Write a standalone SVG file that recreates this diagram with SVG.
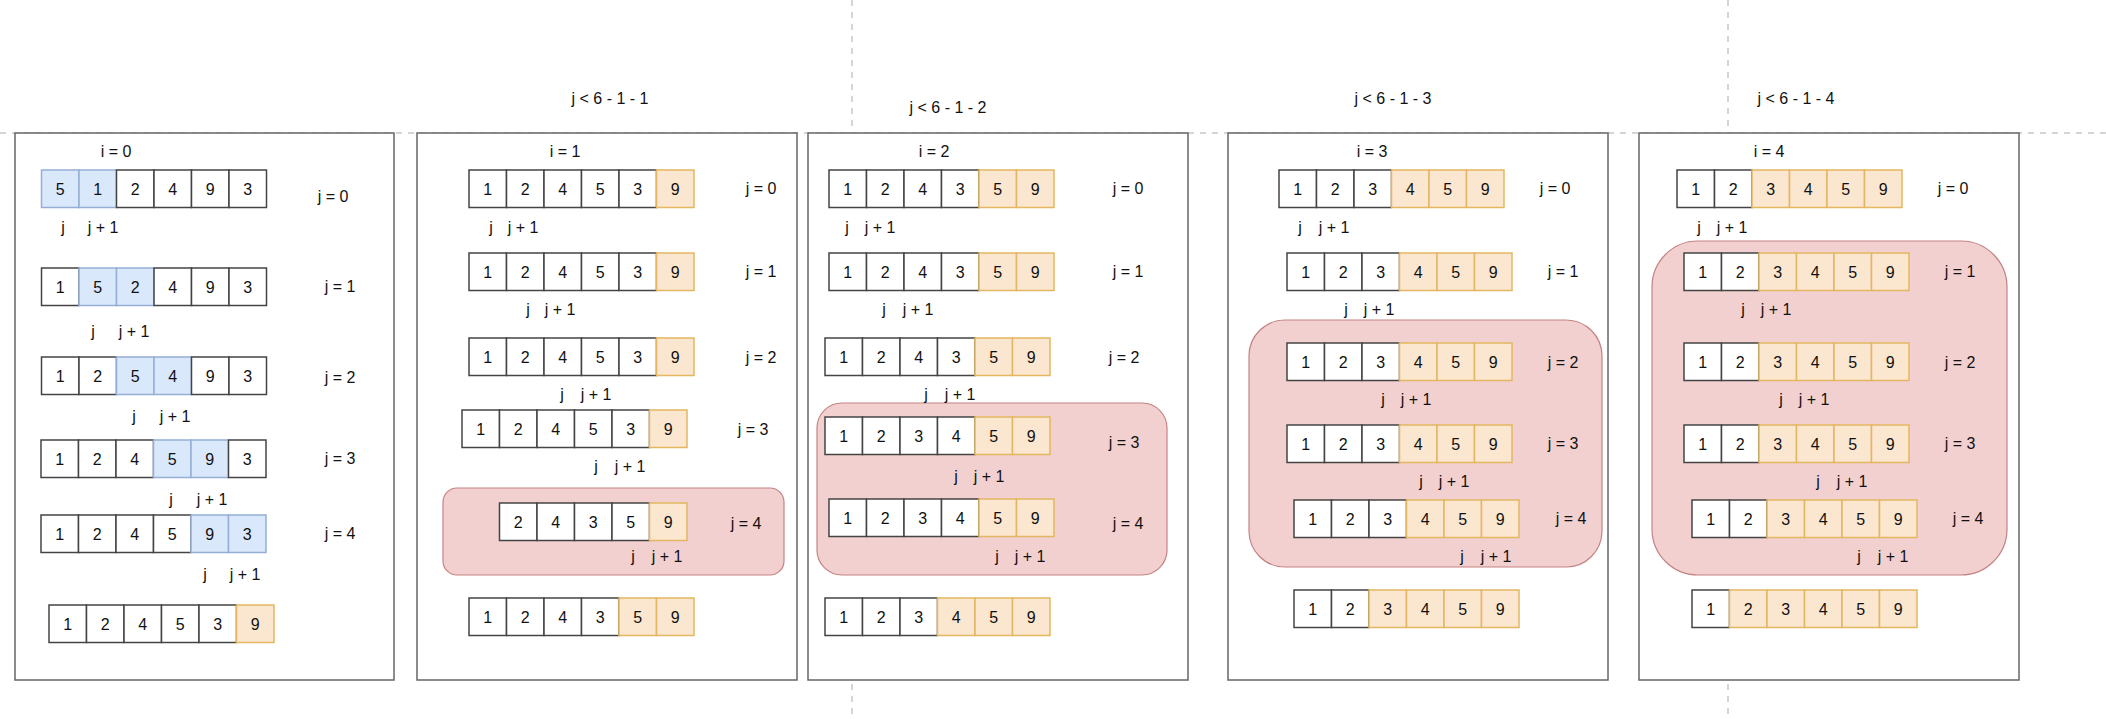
<svg xmlns="http://www.w3.org/2000/svg" width="2106" height="719" viewBox="0 0 2106 719">
<style>
text{font-family:"Liberation Sans",Arial,sans-serif;font-size:16px;fill:#111;text-anchor:middle;dominant-baseline:central}
.p{fill:#fff;stroke:#666;stroke-width:1.5}
.c{fill:#fff;stroke:#444;stroke-width:1.5}
.b{fill:#dae8fc;stroke:#95aed6;stroke-width:1.5}
.o{fill:#fbe6cf;stroke:#e3b661;stroke-width:1.5}
.h{fill:#f2d0cf;stroke:#c48382;stroke-width:1.2}
.d{stroke:#c8c8c8;stroke-width:1.5;stroke-dasharray:6 6;fill:none}
</style>
<g id="guides">
<line class="d" x1="0" y1="133" x2="2106" y2="133"/>
<line class="d" x1="852" y1="0" x2="852" y2="719"/>
<line class="d" x1="1728" y1="0" x2="1728" y2="719"/>
</g>
<g id="panels">
<rect class="p" x="15" y="133" width="379" height="547"/>
<rect class="p" x="417" y="133" width="380" height="547"/>
<rect class="p" x="808" y="133" width="380" height="547"/>
<rect class="p" x="1228" y="133" width="380" height="547"/>
<rect class="p" x="1639" y="133" width="380" height="547"/>
</g>
<g id="highlights">
<rect class="h" x="443" y="488" width="341" height="87" rx="14"/>
<rect class="h" x="817" y="403" width="350" height="172" rx="25"/>
<rect class="h" x="1249" y="320" width="353" height="247" rx="36"/>
<rect class="h" x="1652" y="241" width="355" height="334" rx="46"/>
</g>
<g id="connectors"/>
<g id="labels">
<text x="610" y="98">j &lt;  6 - 1 - 1</text>
<text x="948" y="107">j &lt; 6 - 1 - 2</text>
<text x="1393" y="98">j &lt; 6 - 1 - 3</text>
<text x="1796" y="98">j &lt; 6 - 1 - 4</text>
<text x="116" y="151">i = 0</text>
<text x="565" y="151">i = 1</text>
<text x="934" y="151">i = 2</text>
<text x="1372" y="151">i = 3</text>
<text x="1769" y="151">i = 4</text>
<text x="333" y="196">j = 0</text><text x="340" y="286">j = 1</text><text x="340" y="377">j = 2</text><text x="340" y="458">j = 3</text><text x="340" y="533">j = 4</text>
<text x="63" y="227">j</text><text x="103" y="227">j + 1</text>
<text x="93" y="331">j</text><text x="134" y="331">j + 1</text>
<text x="134" y="416">j</text><text x="175" y="416">j + 1</text>
<text x="171" y="499">j</text><text x="212" y="499">j + 1</text>
<text x="205" y="574">j</text><text x="245" y="574">j + 1</text>
<text x="761" y="188">j = 0</text><text x="761" y="271">j = 1</text><text x="761" y="357">j = 2</text><text x="753" y="429">j = 3</text><text x="746" y="523">j = 4</text>
<text x="491" y="227">j</text><text x="523" y="227">j + 1</text>
<text x="528" y="309">j</text><text x="560" y="309">j + 1</text>
<text x="562" y="394">j</text><text x="596" y="394">j + 1</text>
<text x="596" y="466">j</text><text x="630" y="466">j + 1</text>
<text x="633" y="556">j</text><text x="667" y="556">j + 1</text>
<text x="1128" y="188">j = 0</text><text x="1128" y="271">j = 1</text><text x="1124" y="357">j = 2</text><text x="1124" y="442">j = 3</text><text x="1128" y="523">j = 4</text>
<text x="847" y="227">j</text><text x="880" y="227">j + 1</text>
<text x="884" y="309">j</text><text x="918" y="309">j + 1</text>
<text x="926" y="394">j</text><text x="960" y="394">j + 1</text>
<text x="956" y="476">j</text><text x="989" y="476">j + 1</text>
<text x="997" y="556">j</text><text x="1030" y="556">j + 1</text>
<text x="1555" y="188">j = 0</text><text x="1563" y="271">j = 1</text><text x="1563" y="362">j = 2</text><text x="1563" y="443">j = 3</text><text x="1571" y="518">j = 4</text>
<text x="1300" y="227">j</text><text x="1334" y="227">j + 1</text>
<text x="1346" y="309">j</text><text x="1379" y="309">j + 1</text>
<text x="1383" y="399">j</text><text x="1416" y="399">j + 1</text>
<text x="1421" y="481">j</text><text x="1454" y="481">j + 1</text>
<text x="1462" y="556">j</text><text x="1496" y="556">j + 1</text>
<text x="1953" y="188">j = 0</text><text x="1960" y="271">j = 1</text><text x="1960" y="362">j = 2</text><text x="1960" y="443">j = 3</text><text x="1968" y="518">j = 4</text>
<text x="1699" y="227">j</text><text x="1732" y="227">j + 1</text>
<text x="1743" y="309">j</text><text x="1776" y="309">j + 1</text>
<text x="1781" y="399">j</text><text x="1814" y="399">j + 1</text>
<text x="1818" y="481">j</text><text x="1852" y="481">j + 1</text>
<text x="1859" y="556">j</text><text x="1893" y="556">j + 1</text>
</g>
<g id="p1r0" transform="translate(41.5,170)"><rect class="b" x="0" width="37.5" height="37.5"/><rect class="b" x="37.5" width="37.5" height="37.5"/><rect class="c" x="75" width="37.5" height="37.5"/><rect class="c" x="112.5" width="37.5" height="37.5"/><rect class="c" x="150" width="37.5" height="37.5"/><rect class="c" x="187.5" width="37.5" height="37.5"/><text x="18.75" y="19">5</text><text x="56.25" y="19">1</text><text x="93.75" y="19">2</text><text x="131.25" y="19">4</text><text x="168.75" y="19">9</text><text x="206.25" y="19">3</text></g>
<g id="p1r1" transform="translate(41.5,268)"><rect class="c" x="0" width="37.5" height="37.5"/><rect class="b" x="37.5" width="37.5" height="37.5"/><rect class="b" x="75" width="37.5" height="37.5"/><rect class="c" x="112.5" width="37.5" height="37.5"/><rect class="c" x="150" width="37.5" height="37.5"/><rect class="c" x="187.5" width="37.5" height="37.5"/><text x="18.75" y="19">1</text><text x="56.25" y="19">5</text><text x="93.75" y="19">2</text><text x="131.25" y="19">4</text><text x="168.75" y="19">9</text><text x="206.25" y="19">3</text></g>
<g id="p1r2" transform="translate(41.5,357)"><rect class="c" x="0" width="37.5" height="37.5"/><rect class="c" x="37.5" width="37.5" height="37.5"/><rect class="b" x="75" width="37.5" height="37.5"/><rect class="b" x="112.5" width="37.5" height="37.5"/><rect class="c" x="150" width="37.5" height="37.5"/><rect class="c" x="187.5" width="37.5" height="37.5"/><text x="18.75" y="19">1</text><text x="56.25" y="19">2</text><text x="93.75" y="19">5</text><text x="131.25" y="19">4</text><text x="168.75" y="19">9</text><text x="206.25" y="19">3</text></g>
<g id="p1r3" transform="translate(41,440)"><rect class="c" x="0" width="37.5" height="37.5"/><rect class="c" x="37.5" width="37.5" height="37.5"/><rect class="c" x="75" width="37.5" height="37.5"/><rect class="b" x="112.5" width="37.5" height="37.5"/><rect class="b" x="150" width="37.5" height="37.5"/><rect class="c" x="187.5" width="37.5" height="37.5"/><text x="18.75" y="19">1</text><text x="56.25" y="19">2</text><text x="93.75" y="19">4</text><text x="131.25" y="19">5</text><text x="168.75" y="19">9</text><text x="206.25" y="19">3</text></g>
<g id="p1r4" transform="translate(41,515)"><rect class="c" x="0" width="37.5" height="37.5"/><rect class="c" x="37.5" width="37.5" height="37.5"/><rect class="c" x="75" width="37.5" height="37.5"/><rect class="c" x="112.5" width="37.5" height="37.5"/><rect class="b" x="150" width="37.5" height="37.5"/><rect class="b" x="187.5" width="37.5" height="37.5"/><text x="18.75" y="19">1</text><text x="56.25" y="19">2</text><text x="93.75" y="19">4</text><text x="131.25" y="19">5</text><text x="168.75" y="19">9</text><text x="206.25" y="19">3</text></g>
<g id="p1r5" transform="translate(49,605)"><rect class="c" x="0" width="37.5" height="37.5"/><rect class="c" x="37.5" width="37.5" height="37.5"/><rect class="c" x="75" width="37.5" height="37.5"/><rect class="c" x="112.5" width="37.5" height="37.5"/><rect class="c" x="150" width="37.5" height="37.5"/><rect class="o" x="187.5" width="37.5" height="37.5"/><text x="18.75" y="19">1</text><text x="56.25" y="19">2</text><text x="93.75" y="19">4</text><text x="131.25" y="19">5</text><text x="168.75" y="19">3</text><text x="206.25" y="19">9</text></g>
<g id="p2r0" transform="translate(469,170)"><rect class="c" x="0" width="37.5" height="37.5"/><rect class="c" x="37.5" width="37.5" height="37.5"/><rect class="c" x="75" width="37.5" height="37.5"/><rect class="c" x="112.5" width="37.5" height="37.5"/><rect class="c" x="150" width="37.5" height="37.5"/><rect class="o" x="187.5" width="37.5" height="37.5"/><text x="18.75" y="19">1</text><text x="56.25" y="19">2</text><text x="93.75" y="19">4</text><text x="131.25" y="19">5</text><text x="168.75" y="19">3</text><text x="206.25" y="19">9</text></g>
<g id="p2r1" transform="translate(469,253)"><rect class="c" x="0" width="37.5" height="37.5"/><rect class="c" x="37.5" width="37.5" height="37.5"/><rect class="c" x="75" width="37.5" height="37.5"/><rect class="c" x="112.5" width="37.5" height="37.5"/><rect class="c" x="150" width="37.5" height="37.5"/><rect class="o" x="187.5" width="37.5" height="37.5"/><text x="18.75" y="19">1</text><text x="56.25" y="19">2</text><text x="93.75" y="19">4</text><text x="131.25" y="19">5</text><text x="168.75" y="19">3</text><text x="206.25" y="19">9</text></g>
<g id="p2r2" transform="translate(469,338)"><rect class="c" x="0" width="37.5" height="37.5"/><rect class="c" x="37.5" width="37.5" height="37.5"/><rect class="c" x="75" width="37.5" height="37.5"/><rect class="c" x="112.5" width="37.5" height="37.5"/><rect class="c" x="150" width="37.5" height="37.5"/><rect class="o" x="187.5" width="37.5" height="37.5"/><text x="18.75" y="19">1</text><text x="56.25" y="19">2</text><text x="93.75" y="19">4</text><text x="131.25" y="19">5</text><text x="168.75" y="19">3</text><text x="206.25" y="19">9</text></g>
<g id="p2r3" transform="translate(462,410)"><rect class="c" x="0" width="37.5" height="37.5"/><rect class="c" x="37.5" width="37.5" height="37.5"/><rect class="c" x="75" width="37.5" height="37.5"/><rect class="c" x="112.5" width="37.5" height="37.5"/><rect class="c" x="150" width="37.5" height="37.5"/><rect class="o" x="187.5" width="37.5" height="37.5"/><text x="18.75" y="19">1</text><text x="56.25" y="19">2</text><text x="93.75" y="19">4</text><text x="131.25" y="19">5</text><text x="168.75" y="19">3</text><text x="206.25" y="19">9</text></g>
<g id="p2r4" transform="translate(499.5,503)"><rect class="c" x="0" width="37.5" height="37.5"/><rect class="c" x="37.5" width="37.5" height="37.5"/><rect class="c" x="75" width="37.5" height="37.5"/><rect class="c" x="112.5" width="37.5" height="37.5"/><rect class="o" x="150" width="37.5" height="37.5"/><text x="18.75" y="19">2</text><text x="56.25" y="19">4</text><text x="93.75" y="19">3</text><text x="131.25" y="19">5</text><text x="168.75" y="19">9</text></g>
<g id="p2r5" transform="translate(469,598)"><rect class="c" x="0" width="37.5" height="37.5"/><rect class="c" x="37.5" width="37.5" height="37.5"/><rect class="c" x="75" width="37.5" height="37.5"/><rect class="c" x="112.5" width="37.5" height="37.5"/><rect class="o" x="150" width="37.5" height="37.5"/><rect class="o" x="187.5" width="37.5" height="37.5"/><text x="18.75" y="19">1</text><text x="56.25" y="19">2</text><text x="93.75" y="19">4</text><text x="131.25" y="19">3</text><text x="168.75" y="19">5</text><text x="206.25" y="19">9</text></g>
<g id="p3r0" transform="translate(829,170)"><rect class="c" x="0" width="37.5" height="37.5"/><rect class="c" x="37.5" width="37.5" height="37.5"/><rect class="c" x="75" width="37.5" height="37.5"/><rect class="c" x="112.5" width="37.5" height="37.5"/><rect class="o" x="150" width="37.5" height="37.5"/><rect class="o" x="187.5" width="37.5" height="37.5"/><text x="18.75" y="19">1</text><text x="56.25" y="19">2</text><text x="93.75" y="19">4</text><text x="131.25" y="19">3</text><text x="168.75" y="19">5</text><text x="206.25" y="19">9</text></g>
<g id="p3r1" transform="translate(829,253)"><rect class="c" x="0" width="37.5" height="37.5"/><rect class="c" x="37.5" width="37.5" height="37.5"/><rect class="c" x="75" width="37.5" height="37.5"/><rect class="c" x="112.5" width="37.5" height="37.5"/><rect class="o" x="150" width="37.5" height="37.5"/><rect class="o" x="187.5" width="37.5" height="37.5"/><text x="18.75" y="19">1</text><text x="56.25" y="19">2</text><text x="93.75" y="19">4</text><text x="131.25" y="19">3</text><text x="168.75" y="19">5</text><text x="206.25" y="19">9</text></g>
<g id="p3r2" transform="translate(825,338)"><rect class="c" x="0" width="37.5" height="37.5"/><rect class="c" x="37.5" width="37.5" height="37.5"/><rect class="c" x="75" width="37.5" height="37.5"/><rect class="c" x="112.5" width="37.5" height="37.5"/><rect class="o" x="150" width="37.5" height="37.5"/><rect class="o" x="187.5" width="37.5" height="37.5"/><text x="18.75" y="19">1</text><text x="56.25" y="19">2</text><text x="93.75" y="19">4</text><text x="131.25" y="19">3</text><text x="168.75" y="19">5</text><text x="206.25" y="19">9</text></g>
<g id="p3r3" transform="translate(825,417)"><rect class="c" x="0" width="37.5" height="37.5"/><rect class="c" x="37.5" width="37.5" height="37.5"/><rect class="c" x="75" width="37.5" height="37.5"/><rect class="c" x="112.5" width="37.5" height="37.5"/><rect class="o" x="150" width="37.5" height="37.5"/><rect class="o" x="187.5" width="37.5" height="37.5"/><text x="18.75" y="19">1</text><text x="56.25" y="19">2</text><text x="93.75" y="19">3</text><text x="131.25" y="19">4</text><text x="168.75" y="19">5</text><text x="206.25" y="19">9</text></g>
<g id="p3r4" transform="translate(829,499)"><rect class="c" x="0" width="37.5" height="37.5"/><rect class="c" x="37.5" width="37.5" height="37.5"/><rect class="c" x="75" width="37.5" height="37.5"/><rect class="c" x="112.5" width="37.5" height="37.5"/><rect class="o" x="150" width="37.5" height="37.5"/><rect class="o" x="187.5" width="37.5" height="37.5"/><text x="18.75" y="19">1</text><text x="56.25" y="19">2</text><text x="93.75" y="19">3</text><text x="131.25" y="19">4</text><text x="168.75" y="19">5</text><text x="206.25" y="19">9</text></g>
<g id="p3r5" transform="translate(825,598)"><rect class="c" x="0" width="37.5" height="37.5"/><rect class="c" x="37.5" width="37.5" height="37.5"/><rect class="c" x="75" width="37.5" height="37.5"/><rect class="o" x="112.5" width="37.5" height="37.5"/><rect class="o" x="150" width="37.5" height="37.5"/><rect class="o" x="187.5" width="37.5" height="37.5"/><text x="18.75" y="19">1</text><text x="56.25" y="19">2</text><text x="93.75" y="19">3</text><text x="131.25" y="19">4</text><text x="168.75" y="19">5</text><text x="206.25" y="19">9</text></g>
<g id="p4r0" transform="translate(1279,170)"><rect class="c" x="0" width="37.5" height="37.5"/><rect class="c" x="37.5" width="37.5" height="37.5"/><rect class="c" x="75" width="37.5" height="37.5"/><rect class="o" x="112.5" width="37.5" height="37.5"/><rect class="o" x="150" width="37.5" height="37.5"/><rect class="o" x="187.5" width="37.5" height="37.5"/><text x="18.75" y="19">1</text><text x="56.25" y="19">2</text><text x="93.75" y="19">3</text><text x="131.25" y="19">4</text><text x="168.75" y="19">5</text><text x="206.25" y="19">9</text></g>
<g id="p4r1" transform="translate(1287,253)"><rect class="c" x="0" width="37.5" height="37.5"/><rect class="c" x="37.5" width="37.5" height="37.5"/><rect class="c" x="75" width="37.5" height="37.5"/><rect class="o" x="112.5" width="37.5" height="37.5"/><rect class="o" x="150" width="37.5" height="37.5"/><rect class="o" x="187.5" width="37.5" height="37.5"/><text x="18.75" y="19">1</text><text x="56.25" y="19">2</text><text x="93.75" y="19">3</text><text x="131.25" y="19">4</text><text x="168.75" y="19">5</text><text x="206.25" y="19">9</text></g>
<g id="p4r2" transform="translate(1287,343)"><rect class="c" x="0" width="37.5" height="37.5"/><rect class="c" x="37.5" width="37.5" height="37.5"/><rect class="c" x="75" width="37.5" height="37.5"/><rect class="o" x="112.5" width="37.5" height="37.5"/><rect class="o" x="150" width="37.5" height="37.5"/><rect class="o" x="187.5" width="37.5" height="37.5"/><text x="18.75" y="19">1</text><text x="56.25" y="19">2</text><text x="93.75" y="19">3</text><text x="131.25" y="19">4</text><text x="168.75" y="19">5</text><text x="206.25" y="19">9</text></g>
<g id="p4r3" transform="translate(1287,425)"><rect class="c" x="0" width="37.5" height="37.5"/><rect class="c" x="37.5" width="37.5" height="37.5"/><rect class="c" x="75" width="37.5" height="37.5"/><rect class="o" x="112.5" width="37.5" height="37.5"/><rect class="o" x="150" width="37.5" height="37.5"/><rect class="o" x="187.5" width="37.5" height="37.5"/><text x="18.75" y="19">1</text><text x="56.25" y="19">2</text><text x="93.75" y="19">3</text><text x="131.25" y="19">4</text><text x="168.75" y="19">5</text><text x="206.25" y="19">9</text></g>
<g id="p4r4" transform="translate(1294,500)"><rect class="c" x="0" width="37.5" height="37.5"/><rect class="c" x="37.5" width="37.5" height="37.5"/><rect class="c" x="75" width="37.5" height="37.5"/><rect class="o" x="112.5" width="37.5" height="37.5"/><rect class="o" x="150" width="37.5" height="37.5"/><rect class="o" x="187.5" width="37.5" height="37.5"/><text x="18.75" y="19">1</text><text x="56.25" y="19">2</text><text x="93.75" y="19">3</text><text x="131.25" y="19">4</text><text x="168.75" y="19">5</text><text x="206.25" y="19">9</text></g>
<g id="p4r5" transform="translate(1294,590)"><rect class="c" x="0" width="37.5" height="37.5"/><rect class="c" x="37.5" width="37.5" height="37.5"/><rect class="o" x="75" width="37.5" height="37.5"/><rect class="o" x="112.5" width="37.5" height="37.5"/><rect class="o" x="150" width="37.5" height="37.5"/><rect class="o" x="187.5" width="37.5" height="37.5"/><text x="18.75" y="19">1</text><text x="56.25" y="19">2</text><text x="93.75" y="19">3</text><text x="131.25" y="19">4</text><text x="168.75" y="19">5</text><text x="206.25" y="19">9</text></g>
<g id="p5r0" transform="translate(1677,170)"><rect class="c" x="0" width="37.5" height="37.5"/><rect class="c" x="37.5" width="37.5" height="37.5"/><rect class="o" x="75" width="37.5" height="37.5"/><rect class="o" x="112.5" width="37.5" height="37.5"/><rect class="o" x="150" width="37.5" height="37.5"/><rect class="o" x="187.5" width="37.5" height="37.5"/><text x="18.75" y="19">1</text><text x="56.25" y="19">2</text><text x="93.75" y="19">3</text><text x="131.25" y="19">4</text><text x="168.75" y="19">5</text><text x="206.25" y="19">9</text></g>
<g id="p5r1" transform="translate(1684,253)"><rect class="c" x="0" width="37.5" height="37.5"/><rect class="c" x="37.5" width="37.5" height="37.5"/><rect class="o" x="75" width="37.5" height="37.5"/><rect class="o" x="112.5" width="37.5" height="37.5"/><rect class="o" x="150" width="37.5" height="37.5"/><rect class="o" x="187.5" width="37.5" height="37.5"/><text x="18.75" y="19">1</text><text x="56.25" y="19">2</text><text x="93.75" y="19">3</text><text x="131.25" y="19">4</text><text x="168.75" y="19">5</text><text x="206.25" y="19">9</text></g>
<g id="p5r2" transform="translate(1684,343)"><rect class="c" x="0" width="37.5" height="37.5"/><rect class="c" x="37.5" width="37.5" height="37.5"/><rect class="o" x="75" width="37.5" height="37.5"/><rect class="o" x="112.5" width="37.5" height="37.5"/><rect class="o" x="150" width="37.5" height="37.5"/><rect class="o" x="187.5" width="37.5" height="37.5"/><text x="18.75" y="19">1</text><text x="56.25" y="19">2</text><text x="93.75" y="19">3</text><text x="131.25" y="19">4</text><text x="168.75" y="19">5</text><text x="206.25" y="19">9</text></g>
<g id="p5r3" transform="translate(1684,425)"><rect class="c" x="0" width="37.5" height="37.5"/><rect class="c" x="37.5" width="37.5" height="37.5"/><rect class="o" x="75" width="37.5" height="37.5"/><rect class="o" x="112.5" width="37.5" height="37.5"/><rect class="o" x="150" width="37.5" height="37.5"/><rect class="o" x="187.5" width="37.5" height="37.5"/><text x="18.75" y="19">1</text><text x="56.25" y="19">2</text><text x="93.75" y="19">3</text><text x="131.25" y="19">4</text><text x="168.75" y="19">5</text><text x="206.25" y="19">9</text></g>
<g id="p5r4" transform="translate(1692,500)"><rect class="c" x="0" width="37.5" height="37.5"/><rect class="c" x="37.5" width="37.5" height="37.5"/><rect class="o" x="75" width="37.5" height="37.5"/><rect class="o" x="112.5" width="37.5" height="37.5"/><rect class="o" x="150" width="37.5" height="37.5"/><rect class="o" x="187.5" width="37.5" height="37.5"/><text x="18.75" y="19">1</text><text x="56.25" y="19">2</text><text x="93.75" y="19">3</text><text x="131.25" y="19">4</text><text x="168.75" y="19">5</text><text x="206.25" y="19">9</text></g>
<g id="p5r5" transform="translate(1692,590)"><rect class="c" x="0" width="37.5" height="37.5"/><rect class="o" x="37.5" width="37.5" height="37.5"/><rect class="o" x="75" width="37.5" height="37.5"/><rect class="o" x="112.5" width="37.5" height="37.5"/><rect class="o" x="150" width="37.5" height="37.5"/><rect class="o" x="187.5" width="37.5" height="37.5"/><text x="18.75" y="19">1</text><text x="56.25" y="19">2</text><text x="93.75" y="19">3</text><text x="131.25" y="19">4</text><text x="168.75" y="19">5</text><text x="206.25" y="19">9</text></g>
</svg>
